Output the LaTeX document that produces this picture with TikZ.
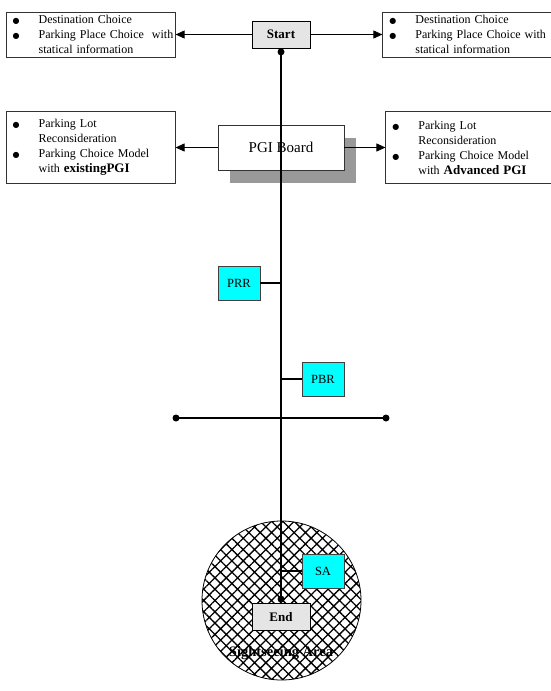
\documentclass[tikz,border=0pt]{standalone}
\usepackage{fontspec}
\setmainfont{Liberation Serif}
\newfontfamily\symfont{DejaVu Sans}
\usetikzlibrary{arrows.meta, positioning, shadows, patterns.meta}

\definecolor{aqua}{RGB}{0,255,255}
\newcommand{\itm}[1]{\makebox[29pt][l]{\hspace*{3pt}{\symfont\fontsize{8}{8}\selectfont ●}}\mbox{#1}}
\newcommand{\gap}[1]{\hspace*{29pt}\mbox{#1}}

\begin{document}
\begin{tikzpicture}[
    x=1pt, y=-1pt,
    infobox/.style={draw=black!80, line width=0.9pt, fill=white, align=left,
                    text width=162pt, inner xsep=3.5pt, inner ysep=2pt,
                    font=\fontsize{12}{15}\selectfont},
    termbox/.style={draw, line width=0.8pt, fill=black!10, minimum width=58pt,
                    minimum height=27pt, font=\fontsize{13}{15}\selectfont\bfseries},
    tagbox/.style={draw=black!75, line width=0.8pt, fill=aqua, minimum width=42pt,
                   minimum height=34pt, font=\fontsize{12.5}{15}\selectfont},
    route/.style={line width=1.6pt},
    branch/.style={line width=1.3pt},
    pointer/.style={line width=0.8pt, -{Triangle[length=9pt,width=8pt]}},
    dot/.style={circle, fill, inner sep=0pt, minimum size=7pt}
  ]
  \useasboundingbox (0,0) rectangle (550,691);

  % Start and the two info boxes
  \node[termbox] (start) at (281,34.5) {Start};
  \node[infobox, minimum height=45pt, left=76pt of start] (destL)
    {\itm{Destination Choice}\\
     \itm{Parking Place Choice\ \ with}\\
     \gap{statical information}};
  \node[infobox, minimum height=45pt, right=72pt of start] (destR)
    {\itm{Destination Choice}\\
     \itm{Parking Place Choice with}\\
     \gap{statical information}};
  \draw[pointer] (start) -- (destL);
  \draw[pointer] (start) -- (destR);

  % PGI board
  \node[draw=black!80, line width=0.9pt, fill=white, minimum width=126pt,
        minimum height=45pt, font=\fontsize{15}{17}\selectfont,
        drop shadow={shadow xshift=12pt, shadow yshift=-13pt,
                     fill=black!40, opacity=1}] (pgi) at (281,147.5) {PGI Board};
  \node[infobox, minimum height=72pt, left=42pt of pgi] (lotL)
    {\itm{Parking Lot}\\
     \gap{Reconsideration}\\
     \itm{Parking Choice Model}\\
     \gap{with {\fontsize{13}{15}\selectfont\bfseries existingPGI}}};
  \node[infobox, minimum height=72pt, right=41pt of pgi] (lotR)
    {\itm{Parking Lot}\\
     \gap{Reconsideration}\\
     \itm{Parking Choice Model}\\
     \gap{with {\fontsize{13}{15}\selectfont\bfseries Advanced PGI}}};
  \draw[pointer] (pgi) -- (lotL);
  \draw[pointer] (pgi) -- (lotR);

  % Sightseeing area
  \node[circle, draw, line width=0.8pt, minimum size=159pt, inner sep=0pt,
        pattern={Hatch[angle=45, distance=8pt, line width=1.3pt]}]
        (area) at (281.5,600.5) {};
  \node[font=\fontsize{14.5}{16}\selectfont\bfseries] (arealbl) at (281,653) {Sightseeing Area};

  % Route
  \node[termbox] (end) at (281,617) {End};
  \node[dot] (sdot) at ([yshift=-3.5pt]start.south) {};
  \node[dot] (edot) at ([yshift=4pt]end.north) {};
  \draw[route] (sdot.center) -- (edot.center);

  % Crossing road
  \node[dot] (cl) at (176,418) {};
  \node[dot] (cr) at (386,418) {};
  \draw[route] (cl.center) -- (cr.center);

  % Stops along the route
  \node[tagbox] (prr) at (239,283) {PRR};
  \node[tagbox] (pbr) at (323,379) {PBR};
  \node[tagbox] (sa) at (323,571) {SA};
  \draw[branch] (prr.east) -- (prr.east -| sdot.center);
  \draw[branch] (pbr.west) -- (pbr.west -| sdot.center);
  \draw[branch] (sa.west) -- (sa.west -| sdot.center);

\end{tikzpicture}
\end{document}
